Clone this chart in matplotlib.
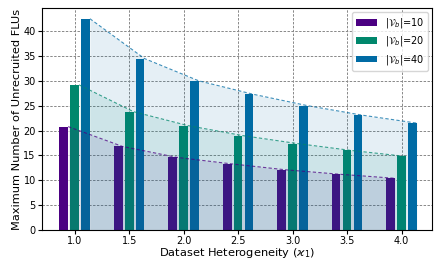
import numpy as np
import matplotlib
matplotlib.use("Agg")
import matplotlib.pyplot as plt

# Dataset heterogeneity levels
heterogeneity = [1.0, 1.5, 2.0, 2.5, 3.0, 3.5, 4.0]

# Maximum number of unrecruited FLUs for each |V_b|
flus_vb10 = [20.8, 16.8, 14.6, 13.3, 12.1, 11.2, 10.4]
flus_vb20 = [29.2, 23.8, 21.0, 19.0, 17.4, 16.0, 14.8]
flus_vb40 = [42.5, 34.5, 30.0, 27.3, 25.0, 23.1, 21.5]

series_labels = [r'$|\mathcal{V}_b|$=10', r'$|\mathcal{V}_b|$=20', r'$|\mathcal{V}_b|$=40']
colors = ['#4b0082', '#00876c', '#006ba4']

fig = plt.figure(figsize=(4.34, 2.61), dpi=100)
ax = fig.add_axes([0.0968, 0.1188, 0.8986, 0.8494])

x = np.array(heterogeneity)
width = 0.08
offsets = [-0.1, 0.0, 0.1]
all_series = [flus_vb10, flus_vb20, flus_vb40]

# bars first, then translucent fills and trend lines on top
for vals, off, col, lab in zip(all_series, offsets, colors, series_labels):
    ax.bar(x + off, vals, width, color=col, label=lab)

for vals, off, col in zip(all_series, offsets, colors):
    xe = x + off + width / 2
    ax.fill_between(xe, 0, vals, color=col, alpha=0.1, linewidth=0)
    ax.plot(xe, vals, linestyle=(0, (3, 2)), color=col, alpha=0.75, linewidth=0.8)

ax.set_xlim(0.70, 4.28)
ax.set_ylim(0, 44.6)
ax.set_xticks(heterogeneity)
ax.set_yticks(np.arange(0, 45, 5))
ax.tick_params(labelsize=7, length=3, pad=1.5)
ax.set_axisbelow(True)
ax.grid(True, linestyle=(0, (2.5, 1.5)), color='#888888', linewidth=0.7)

ax.set_xlabel(r'Dataset Heterogeneity ($\varkappa_1$)', fontsize=8.2)
ax.xaxis.set_label_coords(0.5, -0.074)
ax.set_ylabel('Maximum Number of Unrecruited FLUs', fontsize=8.2)
ax.yaxis.set_label_coords(-0.052, 0.5)
ax.legend(loc='upper right', fontsize=7, labelspacing=0.45, borderpad=0.4,
          handlelength=2.2, borderaxespad=0.4)

fig.savefig('out.png', dpi=100)
